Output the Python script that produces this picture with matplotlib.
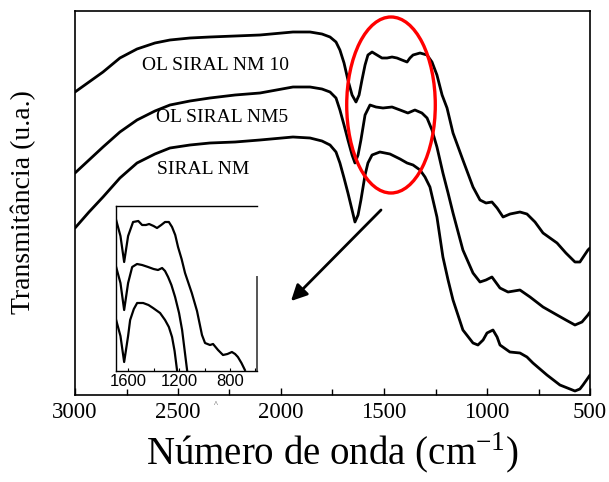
import numpy as np
import matplotlib
matplotlib.use("Agg")
import matplotlib.pyplot as plt
from matplotlib.patches import Ellipse
from matplotlib.ticker import MultipleLocator

plt.rcParams['font.family'] = ['Liberation Serif', 'DejaVu Serif']
plt.rcParams['mathtext.fontset'] = 'custom'
plt.rcParams['mathtext.rm'] = 'Liberation Serif'

# main spectra (wavenumber cm-1, transmittance in arbitrary units)
wn_main = [3000, 2932, 2864, 2782, 2699, 2612, 2539, 2442, 2345, 2223, 2102, 1942, 1859, 1801, 1762,
           1733, 1714, 1694, 1675, 1655, 1636, 1621, 1607, 1592, 1578, 1558, 1534, 1510, 1485, 1461,
           1437, 1413, 1388, 1374, 1359, 1325, 1291, 1267, 1243, 1218, 1194, 1165, 1117, 1068, 1034,
           1005, 976, 951, 922, 888, 840, 806, 767, 728, 694, 660, 617, 573, 549, 510, 500]
t_nm10 = [303, 313, 323, 337, 346, 352, 355, 357, 358, 359, 360, 363, 363, 361, 358,
          353, 345, 332, 315, 300, 293, 300, 315, 330, 340, 343, 340, 337, 337, 338,
          337, 335, 333, 337, 340, 342, 340, 333, 320, 300, 287, 262, 235, 208, 195,
          192, 193, 187, 178, 181, 183, 181, 173, 162, 157, 152, 142, 133, 133, 145, 147]

wn_nm5 = [3000, 2932, 2864, 2782, 2699, 2612, 2539, 2442, 2345, 2223, 2102, 1942, 1859, 1801, 1762,
          1733, 1714, 1694, 1675, 1655, 1641, 1626, 1612, 1592, 1568, 1539, 1505, 1461, 1422, 1384,
          1350, 1316, 1291, 1267, 1243, 1214, 1189, 1165, 1117, 1068, 1034, 1005, 976, 937, 898,
          840, 791, 728, 660, 617, 573, 539, 510, 500]
t_nm5 = [222, 235, 248, 263, 275, 284, 290, 294, 297, 300, 302, 308, 308, 306, 303,
         297, 285, 270, 255, 240, 232, 240, 255, 280, 290, 288, 287, 288, 285, 282,
         285, 282, 277, 265, 248, 222, 202, 182, 145, 122, 113, 115, 118, 107, 103,
         105, 98, 88, 80, 75, 70, 73, 80, 83]

wn_nm = [3000, 2932, 2864, 2782, 2699, 2612, 2539, 2442, 2345, 2223, 2102, 1942, 1859, 1801, 1762,
         1733, 1714, 1694, 1675, 1655, 1641, 1626, 1612, 1592, 1578, 1558, 1520, 1471, 1422, 1388,
         1359, 1325, 1301, 1277, 1243, 1214, 1189, 1165, 1117, 1068, 1044, 1019, 1000, 971, 951,
         937, 889, 840, 806, 777, 743, 709, 646, 573, 549, 534, 510, 500]
t_nm = [167, 183, 198, 217, 232, 241, 247, 250, 252, 253, 255, 258, 257, 254, 250,
        243, 232, 217, 202, 185, 173, 180, 195, 220, 232, 240, 243, 241, 236, 232,
        230, 225, 218, 208, 178, 138, 115, 95, 65, 52, 50, 55, 62, 65, 58,
        50, 43, 42, 38, 32, 26, 20, 10, 4, 6, 10, 17, 20]

# inset (zoom of the 1700-600 cm-1 region)
wn_in_nm10 = [1694, 1660, 1631, 1600, 1561, 1520, 1490, 1460, 1435, 1400, 1373, 1340, 1310, 1280,
              1255, 1230, 1208, 1180, 1153, 1100, 1059, 1020, 996, 957, 933, 894, 855, 820, 785,
              760, 738, 710, 683]
t_in_nm10 = [151, 135, 109, 135, 149, 150, 146, 146, 147, 145, 143, 146, 149, 149,
             144, 136, 124, 112, 98, 78, 60, 36, 28, 26, 27, 21, 16, 17, 19,
             17, 14, 8, 1]
wn_in_nm5 = [1694, 1660, 1631, 1600, 1568, 1530, 1490, 1443, 1400, 1365, 1333, 1310, 1286, 1260,
             1231, 1200, 1176, 1137]
t_in_nm5 = [104, 88, 61, 88, 104, 107, 106, 104, 102, 101, 103, 100, 94, 86,
            74, 58, 41, 1]
wn_in_nm = [1694, 1660, 1631, 1600, 1584, 1555, 1529, 1482, 1440, 1404, 1349, 1310, 1280,
            1255, 1235, 1216]
t_in_nm = [51, 35, 9, 35, 51, 62, 68, 68, 66, 63, 58, 51, 44, 34, 20, 1]

labels = ['OL SIRAL NM 10', 'OL SIRAL NM5', 'SIRAL NM']

fig = plt.figure(figsize=(6.09, 4.82), dpi=100)
ax = fig.add_axes([75/609, 1-395/482, 515/609, 384/482])

for x, y in [(wn_main, t_nm10), (wn_nm5, t_nm5), (wn_nm, t_nm)]:
    ax.plot(x, y, color='k', lw=2.0, solid_joinstyle='round', solid_capstyle='round')

ax.set_xlim(3000, 500)
ax.set_ylim(0, 384)
ax.xaxis.set_major_locator(MultipleLocator(500))
ax.xaxis.set_minor_locator(MultipleLocator(250))
ax.tick_params(axis='x', which='both', direction='in', top=False, labelsize=16.5, pad=5)
ax.tick_params(axis='x', which='major', length=5, width=1)
ax.tick_params(axis='x', which='minor', length=4, width=1)
ax.set_yticks([])
for s in ax.spines.values():
    s.set_linewidth(1.2)

ax.text(2320, 330, labels[0], fontsize=14, ha='center', va='center')
ax.text(2286, 277, labels[1], fontsize=14, ha='center', va='center')
ax.text(2379, 225, labels[2], fontsize=14, ha='center', va='center')

ax.add_patch(Ellipse((1466, 290), 430, 176, fill=False, edgecolor='red', lw=2.4, zorder=5))
ax.annotate('', xy=(1961, 92), xytext=(1505, 187),
            arrowprops=dict(arrowstyle='-|>', color='k', lw=2, mutation_scale=24))

ax.set_xlabel('N\u00famero de onda (cm$^{-1}$)', fontsize=28, labelpad=6)
fig.text(23/609, 1-202/482, 'Transmit\u00e2ncia (u.a.)', fontsize=20, rotation=90,
         ha='center', va='center')

# inset
ins = fig.add_axes([116/609, 1-371/482, 141/609, 165/482])
for x, y in [(wn_in_nm10, t_in_nm10), (wn_in_nm5, t_in_nm5), (wn_in_nm, t_in_nm)]:
    ins.plot(x, y, color='k', lw=1.6, solid_joinstyle='round')
ins.set_xlim(1695, 588)
ins.set_ylim(0, 165)
ins.set_yticks([])
ins.set_xticks([1600, 1200, 800])
ins.xaxis.set_minor_locator(MultipleLocator(200))
ins.tick_params(axis='x', which='both', direction='in', length=2, width=0.8, pad=2)
for t in ins.get_xticklabels():
    t.set_family(['Liberation Sans', 'DejaVu Sans'])
    t.set_fontsize(12)
for s in ins.spines.values():
    s.set_linewidth(1.0)
ins.spines['right'].set_bounds(0, 94)
ins.spines['right'].set_color('#555555')
ins.spines['right'].set_linewidth(1.4)

fig.text(216/609, 1-405/482, '^', fontsize=6, ha='center', va='center', color='#444444')

plt.savefig('out.png', dpi=100)
